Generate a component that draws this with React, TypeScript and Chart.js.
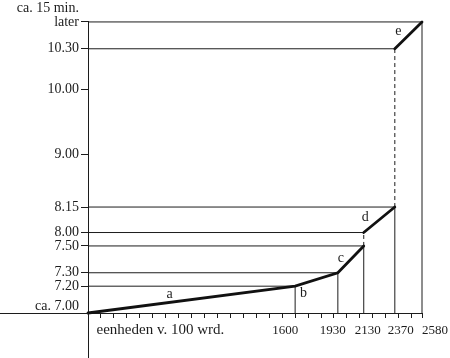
import React, { useEffect, useRef } from 'react';
import { Chart, registerables } from 'chart.js';

Chart.register(...registerables);

// ---- data ----
// time axis: labels and their position on the drawn time axis (≈ minutes after 7.00, as drawn)
const timeLabels = ['ca. 7.00', '7.20', '7.30', '7.50', '8.00', '8.15', '9.00', '10.00', '10.30', 'later'];
const timeAxisPos = [0, 20, 30, 50, 60, 79, 118.5, 166.5, 197, 217];
const topNote = 'ca. 15 min.';

// word-count axis
const wordTicks = [1600, 1930, 2130, 2370, 2580];
const wordUnitLabel = 'eenheden v. 100 wrd.';
const wordMinorStep = 100;
const wordMax = 2580;

// the five segments a–e of the bold line
const segments = ['a', 'b', 'c', 'd', 'e'];
const segStartWords = [0, 1600, 1930, 2130, 2370];
const segEndWords = [1600, 1930, 2130, 2370, 2580];
const segStartTime = [0, 20, 30, 60, 197];
const segEndTime = [20, 30, 50, 79, 217];

// ---- styles ----
const INK = '#1c1c1c';
const FONT = '"Liberation Serif", "DejaVu Serif", serif';
const xLabelNudge = [-10, -5, 4, 6, 13];
const letterOffsets = [[-22, -5], [-13, 14], [-10, -1], [-14, -2], [-10, -4]];

const minorTicks: number[] = [];
for (let v = wordMinorStep; v < wordMax; v += wordMinorStep) minorTicks.push(v);
minorTicks.push(wordMax);

function buildDatasets() {
  const sets: any[] = [];
  // bold line with gaps
  const bold: any[] = [];
  segments.forEach((_, i) => {
    if (i > 0 && segStartTime[i] !== segEndTime[i - 1]) {
      bold.push({ x: segStartWords[i], y: null });
      bold.push({ x: segStartWords[i], y: segStartTime[i] });
    } else if (i === 0) {
      bold.push({ x: segStartWords[i], y: segStartTime[i] });
    }
    bold.push({ x: segEndWords[i], y: segEndTime[i] });
  });
  sets.push({
    data: bold,
    borderColor: '#111',
    borderWidth: 2.8,
    pointRadius: 0,
    spanGaps: false,
    clip: false,
    borderCapStyle: 'round',
  });
  const thin = (pts: any[], dash: number[] = []) => ({
    data: pts,
    borderColor: INK,
    borderWidth: 1,
    borderDash: dash,
    pointRadius: 0,
    clip: false,
  });
  segments.forEach((_, i) => {
    // horizontal guide at the end level
    sets.push(thin([{ x: 0, y: segEndTime[i] }, { x: segEndWords[i], y: segEndTime[i] }]));
    // vertical drop line
    sets.push(thin([{ x: segEndWords[i], y: 0 }, { x: segEndWords[i], y: segEndTime[i] }]));
    if (i > 0 && segStartTime[i] !== segEndTime[i - 1]) {
      sets.push(thin([{ x: 0, y: segStartTime[i] }, { x: segStartWords[i], y: segStartTime[i] }]));
      sets.push(
        thin(
          [{ x: segStartWords[i], y: segEndTime[i - 1] }, { x: segStartWords[i], y: segStartTime[i] }],
          [4, 3]
        )
      );
    }
  });
  return sets;
}

const annotPlugin = {
  id: 'annot',
  afterDraw(chart: any) {
    const { ctx, scales } = chart;
    const xs = scales.x;
    const ys = scales.y;
    const align = (p: number) => Math.round(p - 0.5) + 0.5;
    const x0 = align(xs.getPixelForValue(0));
    const y0 = align(ys.getPixelForValue(0));
    ctx.save();
    ctx.strokeStyle = INK;
    ctx.lineWidth = 1;
    ctx.beginPath();
    ctx.moveTo(0, y0);
    ctx.lineTo(x0, y0);
    ctx.moveTo(x0, y0);
    ctx.lineTo(x0, chart.height);
    ctx.stroke();

    ctx.fillStyle = INK;
    ctx.textBaseline = 'alphabetic';
    ctx.font = `13px ${FONT}`;
    ctx.textAlign = 'center';
    wordTicks.forEach((v, i) => {
      ctx.fillText(String(v), xs.getPixelForValue(v) + xLabelNudge[i], y0 + 20);
    });
    ctx.textAlign = 'left';
    ctx.font = `15px ${FONT}`;
    ctx.fillText(wordUnitLabel, x0 + 8, y0 + 20);

    ctx.font = `14px ${FONT}`;
    ctx.textAlign = 'center';
    ctx.textBaseline = 'middle';
    segments.forEach((s, i) => {
      const mx = (xs.getPixelForValue(segStartWords[i]) + xs.getPixelForValue(segEndWords[i])) / 2;
      const my = (ys.getPixelForValue(segStartTime[i]) + ys.getPixelForValue(segEndTime[i])) / 2;
      ctx.fillText(s, mx + letterOffsets[i][0], my + letterOffsets[i][1]);
    });
    ctx.restore();
  },
};

export default function App() {
  const ref = useRef<HTMLCanvasElement | null>(null);
  useEffect(() => {
    if (!ref.current) return;
    const chart = new Chart(ref.current, {
      type: 'line',
      data: { datasets: buildDatasets() },
      options: {
        responsive: false,
        animation: false,
        devicePixelRatio: 1,
        layout: { padding: { top: 20, right: 28, bottom: 0, left: 0 } },
        plugins: { legend: { display: false }, tooltip: { enabled: false } },
        events: [],
        scales: {
          x: {
            type: 'linear',
            min: 0,
            max: wordMax,
            afterFit: (s: any) => {
              s.height = 45;
            },
            afterBuildTicks: (s: any) => {
              s.ticks = minorTicks.map((v) => ({ value: v }));
            },
            ticks: { display: false },
            grid: { drawOnChartArea: false, drawTicks: true, tickLength: 5, color: INK, lineWidth: 1 },
            border: { display: true, color: INK, width: 1 },
          },
          y: {
            type: 'linear',
            min: 0,
            max: timeAxisPos[timeAxisPos.length - 1],
            afterFit: (s: any) => {
              s.width = 88;
            },
            afterBuildTicks: (s: any) => {
              s.ticks = timeAxisPos.map((v) => ({ value: v }));
            },
            ticks: {
              autoSkip: false,
              padding: 2,
              color: INK,
              font: { family: FONT, size: 14, lineHeight: 0.95 },
              callback: (_v: any, i: number) => {
                const l = timeLabels[i];
                if (i === 0) return [l, ''];
                if (i === timeLabels.length - 1) return [topNote, l, ''];
                return l;
              },
            },
            grid: { drawOnChartArea: false, drawTicks: true, tickLength: 7, color: INK, lineWidth: 1 },
            border: { display: true, color: INK, width: 1 },
          },
        },
      } as any,
      plugins: [annotPlugin],
    });
    return () => chart.destroy();
  }, []);
  return (
    <div style={{ position: 'absolute', left: 0, top: 0, width: 450, height: 358, background: '#fff' }}>
      <canvas ref={ref} width={450} height={358} style={{ display: 'block' }} />
    </div>
  );
}
